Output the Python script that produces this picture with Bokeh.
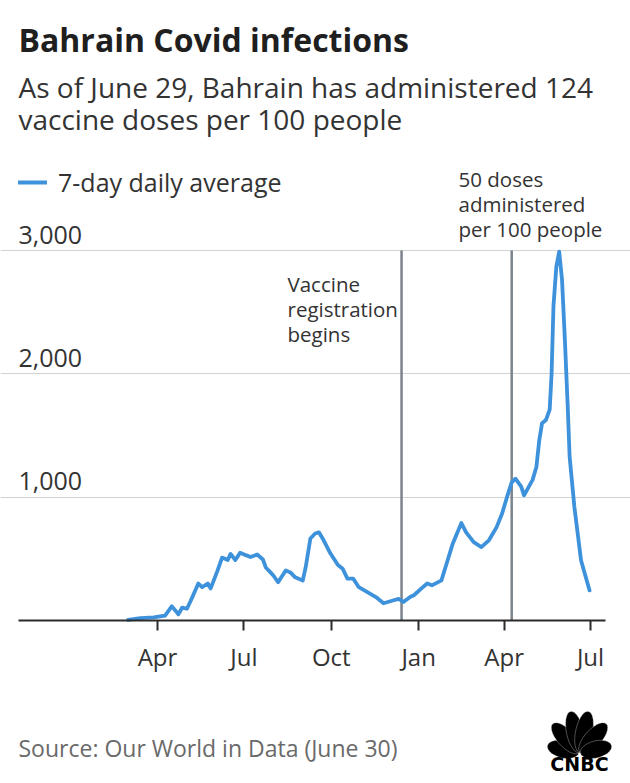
import numpy as np
import pandas as pd
from bokeh.plotting import figure
from bokeh.models import (Label, Legend, LegendItem, FixedTicker, DatetimeTickFormatter,
                          Range1d, PolyAnnotation)
from bokeh.embed import file_html
from bokeh.resources import INLINE

# ---------------- data ----------------
dates = ["2020-03-01", "2020-03-14", "2020-03-28", "2020-04-09", "2020-04-16", "2020-04-20",
         "2020-04-23", "2020-04-27", "2020-05-02", "2020-05-06", "2020-05-14", "2020-05-18",
         "2020-05-24", "2020-05-27", "2020-06-03", "2020-06-08", "2020-06-14", "2020-06-17",
         "2020-06-22", "2020-06-27", "2020-07-03", "2020-07-08", "2020-07-15", "2020-07-21",
         "2020-07-24", "2020-07-29", "2020-08-01", "2020-08-06", "2020-08-14", "2020-08-19",
         "2020-08-24", "2020-09-01", "2020-09-04", "2020-09-09", "2020-09-14", "2020-09-18",
         "2020-09-23", "2020-09-30", "2020-10-08", "2020-10-13", "2020-10-18", "2020-10-24",
         "2020-10-30", "2020-11-08", "2020-11-17", "2020-11-25", "2020-12-04", "2020-12-11",
         "2020-12-16", "2020-12-23", "2020-12-27", "2021-01-04", "2021-01-10", "2021-01-15",
         "2021-01-25", "2021-01-30", "2021-02-06", "2021-02-15", "2021-02-20", "2021-02-28",
         "2021-03-08", "2021-03-16", "2021-03-24", "2021-03-30", "2021-04-04", "2021-04-09",
         "2021-04-13", "2021-04-19", "2021-04-22", "2021-05-01", "2021-05-05", "2021-05-08",
         "2021-05-11", "2021-05-15", "2021-05-19", "2021-05-21", "2021-05-23", "2021-05-26",
         "2021-05-29", "2021-06-01", "2021-06-04", "2021-06-07", "2021-06-09", "2021-06-14",
         "2021-06-21", "2021-06-30"]
cases = [5, 20, 25, 40, 115, 80,
         50, 105, 95, 160, 300, 270,
         300, 260, 400, 510, 490, 540,
         490, 550, 530, 515, 535, 495,
         430, 390, 365, 310, 405, 390,
         350, 325, 430, 665, 705, 715,
         650, 545, 450, 420, 340, 340,
         270, 230, 190, 140, 160, 175,
         150, 190, 205, 260, 300, 285,
         325, 450, 625, 790, 715, 635,
         595, 650, 755, 870, 1000, 1120,
         1150, 1085, 1015, 1140, 1245, 1460,
         1600, 1625, 1710, 2000, 2550, 2870,
         2990, 2764, 2276, 1734, 1328, 921,
         488, 244]

event_dates = ["2020-12-14", "2021-04-09"]
event_labels = [["Vaccine", "registration", "begins"],
                ["50 doses", "administered", "per 100 people"]]

y_ticks = [1000, 2000, 3000]
y_tick_labels = ["1,000", "2,000", "3,000"]
x_ticks = ["2020-04-01", "2020-07-01", "2020-10-01", "2021-01-01", "2021-04-01", "2021-07-01"]
x_tick_labels = ["Apr", "Jul", "Oct", "Jan", "Apr", "Jul"]

title_text = "Bahrain Covid infections"
subtitle_lines = ["As of June 29, Bahrain has administered 124", "vaccine doses per 100 people"]
legend_text = "7-day daily average"
source_text = "Source: Our World in Data (June 30)"

# ---------------- styling / layout ----------------
FONT = "Open Sans"
BLUE = "#3d92db"
DARK = "#2b2b2b"
TXT = "#333333"
W, H = 630, 783
DAY = 86400000.0


def ms(d):
    return pd.Timestamp(d).value / 1e6


# pixel layout of the chart area
PX_PER_DAY = 0.9496          # horizontal scale
APR_PX = 157                 # pixel column of 1 Apr 2020
PX_PER_UNIT = 370 / 3000     # vertical scale
ZERO_PX = 620                # pixel row of the zero line (from top)
PLOT_L, PLOT_R = 18, 605     # horizontal extent of grid / axis

x0 = ms("2020-04-01") - APR_PX / PX_PER_DAY * DAY
x1 = x0 + W / PX_PER_DAY * DAY
gx0 = x0 + PLOT_L / PX_PER_DAY * DAY
gx1 = x0 + PLOT_R / PX_PER_DAY * DAY
y0 = -(H - ZERO_PX) / PX_PER_UNIT
y1 = ZERO_PX / PX_PER_UNIT

p = figure(width=W, height=H, x_axis_type="datetime", output_backend="svg",
           toolbar_location=None,
           x_range=Range1d(x0, x1), y_range=Range1d(y0, y1),
           min_border=0, min_border_left=0, min_border_right=0,
           min_border_top=0, min_border_bottom=0)
p.outline_line_color = None
p.background_fill_color = "white"
p.border_fill_color = "white"

# axes / grid
p.yaxis.visible = False
p.xgrid.visible = False
p.ygrid.ticker = FixedTicker(ticks=y_ticks)
p.ygrid.bounds = (gx0, gx1)
p.ygrid.grid_line_color = "#d2d2d2"
p.ygrid.grid_line_width = 1.2

xa = p.xaxis[0]
xa.fixed_location = 0
xa.bounds = (gx0, gx1)
xa.ticker = FixedTicker(ticks=[ms(d) for d in x_ticks])
xa.formatter = DatetimeTickFormatter(days="%b", months="%b", years="%b")
xa.major_label_overrides = {ms(d): lab for d, lab in zip(x_ticks, x_tick_labels)}
xa.axis_line_color = DARK
xa.axis_line_width = 2
xa.major_tick_line_color = DARK
xa.major_tick_line_width = 2
xa.major_tick_out = 10
xa.major_tick_in = 0
xa.minor_tick_out = 0
xa.minor_tick_in = 0
xa.major_label_text_font = FONT
xa.major_label_text_font_size = "24px"
xa.major_label_text_color = TXT
xa.major_label_standoff = 9

# event lines
ev_x = [ms(d) for d in event_dates]
p.segment(x0=ev_x, y0=[0] * len(ev_x), x1=ev_x, y1=[3000] * len(ev_x),
          line_color="#7b838c", line_width=2.5)

# data line
r = p.line(x=[ms(d) for d in dates], y=cases, line_color=BLUE, line_width=3.8,
           line_join="round", line_cap="round")

# legend (screen units from the frame's bottom-left; frame == canvas)
legend = Legend(items=[LegendItem(label=legend_text, renderers=[r])],
                location=(PLOT_L, H - 199), orientation="horizontal",
                background_fill_alpha=0, border_line_alpha=0, padding=0, margin=0,
                glyph_width=29, glyph_height=24, label_standoff=11, label_height=24,
                label_text_font=FONT, label_text_font_size="25px",
                label_text_color=TXT)
p.add_layout(legend)


def lab(text, x, y, size, color=TXT, style="normal", baseline="middle",
        y_units="screen", y_offset=0, font=FONT, align="left"):
    p.add_layout(Label(text=text, x=x, y=y, x_units="screen", y_units=y_units,
                       text_font=font, text_font_size=size, text_color=color,
                       text_font_style=style, text_baseline=baseline,
                       text_align=align, y_offset=y_offset))


# title + subtitle (y = vertical centre of the text line, from the top)
lab(title_text, PLOT_L, H - 39, "32px", color="#1f1f1f", style="bold")
lab(subtitle_lines[0], PLOT_L, H - 86, "28px")
lab(subtitle_lines[1], PLOT_L, H - 118, "28px")

# y tick labels (sit just above their grid lines)
for v, t in zip(y_ticks, y_tick_labels):
    lab(t, PLOT_L, v, "25px", y_units="data", y_offset=16)

# event annotations
for i, line in enumerate(event_labels[0]):
    lab(line, 287, H - (283 + 25 * i), "20.5px")
for i, line in enumerate(event_labels[1]):
    lab(line, 458, H - (178 + 25 * i), "20.5px")

# source
lab(source_text, PLOT_L, H - 747, "23px", color="#6a6a6a")

# CNBC logo (approximation)
cx, cy = 579, H - 753
for ang, length in [(166, 32), (132, 39), (102, 42), (78, 42), (48, 39), (14, 32)]:
    a = np.deg2rad(ang)
    t = np.linspace(0, 2 * np.pi, 30)
    ex = length / 2 * np.cos(t)
    ey = 8.5 * np.sin(t)
    px = cx + (length / 2 + 1) * np.cos(a) + ex * np.cos(a) - ey * np.sin(a)
    py = cy + (length / 2 + 1) * np.sin(a) + ex * np.sin(a) + ey * np.cos(a)
    p.add_layout(PolyAnnotation(xs=list(px), ys=list(py), xs_units="screen", ys_units="screen",
                                fill_color="black", fill_alpha=1, line_color="white",
                                line_width=1))
lab("CNBC", 579, H - 763, "19px", color="black", style="bold",
    font="DejaVu Sans", align="center")

open("out.html", "w").write(file_html(p, INLINE))
